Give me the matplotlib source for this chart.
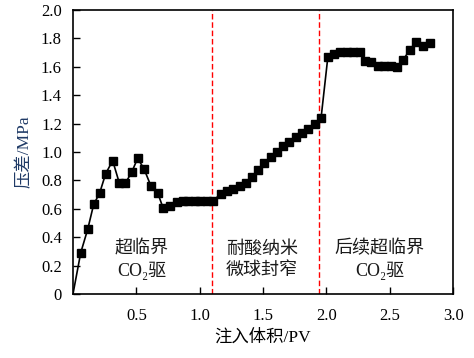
import matplotlib.pyplot as plt

plt.rcParams['font.family'] = ['Liberation Serif', 'Noto Sans CJK SC']

# injected volume (PV) and pressure difference (MPa)
pv = [0.0, 0.061, 0.116, 0.163, 0.21, 0.258, 0.313, 0.366, 0.413, 0.463,
      0.51, 0.56, 0.616, 0.668, 0.71, 0.766, 0.818, 0.866, 0.909, 0.963,
      1.003, 1.055, 1.103, 1.166, 1.213, 1.261, 1.316, 1.363, 1.411, 1.461,
      1.508, 1.561, 1.608, 1.658, 1.708, 1.758, 1.805, 1.858, 1.911, 1.958,
      2.011, 2.058, 2.108, 2.161, 2.208, 2.263, 2.305, 2.355, 2.408, 2.455,
      2.508, 2.558, 2.605, 2.658, 2.708, 2.761, 2.818]
dp = [0.0, 0.29, 0.455, 0.63, 0.71, 0.847, 0.939, 0.78, 0.78, 0.857,
      0.955, 0.882, 0.758, 0.713, 0.608, 0.622, 0.648, 0.657, 0.657, 0.657,
      0.657, 0.657, 0.657, 0.702, 0.725, 0.737, 0.758, 0.784, 0.826, 0.876,
      0.922, 0.967, 1.002, 1.04, 1.073, 1.108, 1.132, 1.164, 1.2, 1.242,
      1.667, 1.688, 1.702, 1.702, 1.702, 1.702, 1.643, 1.634, 1.608, 1.608,
      1.608, 1.601, 1.648, 1.72, 1.776, 1.748, 1.765]

stage_bounds = [1.1, 1.945]
stage_labels = ['超临界\nCO₂驱', '耐酸纳米\n微球封窄', '后续超临界\nCO₂驱']
stage_x = [0.54, 1.49, 2.42]

xticks = [0.5, 1.0, 1.5, 2.0, 2.5, 3.0]
yticks = [0, 0.2, 0.4, 0.6, 0.8, 1.0, 1.2, 1.4, 1.6, 1.8, 2.0]

fig = plt.figure(figsize=(4.74, 3.58), dpi=100)
ax = fig.add_axes([0.154, 0.179, 0.802, 0.793])

# no marker on the origin point
ax.plot(pv, dp, color='k', lw=1.2, marker='s', ms=5.5,
        markevery=list(range(1, len(pv))), zorder=3)

for b in stage_bounds:
    ax.axvline(b, color='red', ls='--', lw=1.0, dashes=(4, 2))

for x, t in zip(stage_x, stage_labels):
    ax.text(x, 0.24, t, ha='center', va='center', fontsize=13,
            linespacing=1.3, color='#1a1a1a')

ax.set_xlim(0, 3.0)
ax.set_ylim(0, 2.0)
ax.set_xticks(xticks)
ax.set_xticklabels([f'{v:.1f}' for v in xticks])
ax.set_yticks(yticks)
ax.set_yticklabels(['0'] + [f'{v:.1f}' for v in yticks[1:]])
ax.tick_params(direction='in', labelsize=12, length=5, width=1, pad=8)
ax.tick_params(axis='x', pad=10)
for s in ax.spines.values():
    s.set_linewidth(1.2)

ax.set_xlabel('注入体积/PV', fontsize=12.5, labelpad=4)
ax.set_ylabel('压差/MPa', fontsize=12.5, color='#1f3a66', labelpad=6)

fig.savefig('out.png', dpi=100)
